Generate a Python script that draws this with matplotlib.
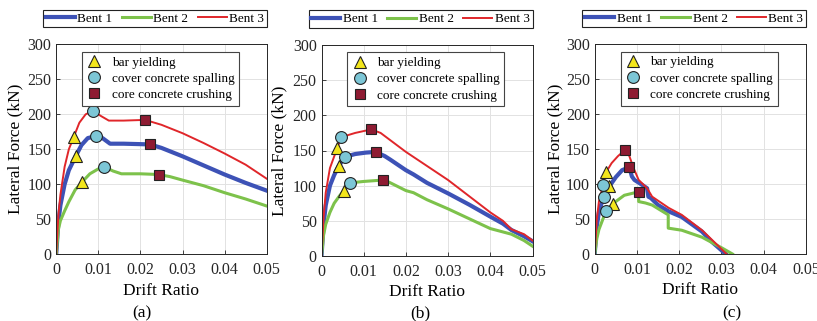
import numpy as np
import matplotlib
matplotlib.use("Agg")
import matplotlib.pyplot as plt
from matplotlib.lines import Line2D
from matplotlib.patches import Rectangle

plt.rcParams['font.family'] = 'Liberation Serif'

# ---- panel (a) ----
a_b1_x = [0, 0.0005, 0.001, 0.002, 0.003, 0.0047, 0.006, 0.0075, 0.0095, 0.011, 0.0128, 0.016, 0.0223,
          0.025, 0.03, 0.035, 0.04, 0.045, 0.05]
a_b1_y = [0, 45, 70, 100, 120, 141, 156, 166, 169, 166, 158, 158, 157, 152, 140, 127, 114, 102, 91]
a_b2_x = [0, 0.0005, 0.001, 0.002, 0.003, 0.0045, 0.0061, 0.008, 0.010, 0.0114, 0.0135, 0.0155, 0.02,
          0.0243, 0.027, 0.03, 0.035, 0.04, 0.045, 0.05]
a_b2_y = [0, 35, 48, 62, 75, 92, 103, 115, 122, 125, 119, 115, 115, 114, 111, 106, 98, 88, 79, 69]
a_b3_x = [0, 0.0005, 0.001, 0.002, 0.003, 0.0042, 0.0055, 0.007, 0.0088, 0.0105, 0.0125, 0.016, 0.0211,
          0.025, 0.03, 0.035, 0.04, 0.045, 0.05]
a_b3_y = [0, 55, 85, 125, 150, 168, 188, 200, 205, 198, 191, 191, 192, 185, 173, 159, 144, 128, 108]
# events: [bent1, bent2, bent3] as (drift, force)
a_yield = [(0.0047, 141), (0.0061, 103), (0.0042, 168)]
a_spall = [(0.0095, 169), (0.0114, 125), (0.0088, 205)]
a_crush = [(0.0223, 157), (0.0243, 114), (0.0211, 192)]

# ---- panel (b) ----
b_b1_x = [0, 0.0005, 0.001, 0.002, 0.003, 0.0041, 0.0055, 0.008, 0.0105, 0.0128, 0.015, 0.0163, 0.02,
          0.0218, 0.025, 0.03, 0.035, 0.04, 0.043, 0.045, 0.048, 0.05]
b_b1_y = [0, 45, 72, 100, 115, 128, 141, 145, 147, 148, 142, 137, 122, 116, 104, 89, 73, 56, 46, 37, 28, 21]
b_b2_x = [0, 0.0005, 0.001, 0.002, 0.003, 0.0042, 0.0053, 0.0068, 0.01, 0.0146, 0.016, 0.02, 0.0218,
          0.025, 0.03, 0.035, 0.04, 0.045, 0.048, 0.05]
b_b2_y = [0, 30, 45, 62, 75, 85, 93, 104, 106, 108, 105, 93, 90, 80, 67, 53, 39, 31, 22, 14]
b_b3_x = [0, 0.0005, 0.001, 0.002, 0.0037, 0.0047, 0.008, 0.0118, 0.014, 0.02, 0.025, 0.03, 0.035,
          0.04, 0.043, 0.045, 0.048, 0.05]
b_b3_y = [0, 55, 90, 125, 153, 169, 175, 180, 175, 148, 128, 108, 85, 62, 50, 38, 31, 22]
b_yield = [(0.0041, 128), (0.0053, 93), (0.0037, 153)]
b_spall = [(0.0055, 141), (0.0068, 104), (0.0047, 169)]
b_crush = [(0.0128, 148), (0.0146, 108), (0.0118, 180)]

# ---- panel (c) ----
c_b1_x = [0, 0.0005, 0.001, 0.0021, 0.0035, 0.005, 0.0065, 0.0082, 0.0088, 0.0094, 0.0112, 0.0124,
          0.0127, 0.0133, 0.015, 0.0175, 0.0206, 0.0254, 0.0278, 0.031]
c_b1_y = [0, 40, 60, 82, 97, 110, 120, 124, 111, 106, 99, 94, 82, 80, 70, 61, 53, 32, 17, 0]
c_b2_x = [0, 0.0005, 0.001, 0.0027, 0.0043, 0.007, 0.0104, 0.0104, 0.012, 0.0136, 0.0174, 0.0174,
          0.0206, 0.0254, 0.03, 0.0326]
c_b2_y = [0, 22, 35, 62, 72, 84, 89, 75, 73, 70, 56, 37, 34, 24, 9, 0]
c_b3_x = [0, 0.0005, 0.001, 0.002, 0.0027, 0.004, 0.0055, 0.0072, 0.0082, 0.0092, 0.0104, 0.0124,
          0.0136, 0.0175, 0.0206, 0.0254, 0.0278, 0.0312]
c_b3_y = [0, 50, 75, 99, 117, 130, 140, 149, 140, 123, 106, 94, 82, 66, 56, 34, 20, 0]
c_yield = [(0.0035, 97), (0.0043, 72), (0.0027, 117)]
c_spall = [(0.0021, 82), (0.0027, 62), (0.002, 99)]
c_crush = [(0.0082, 124), (0.0104, 89), (0.0072, 149)]

bent_names = ["Bent 1", "Bent 2", "Bent 3"]
event_names = ["bar yielding", "cover concrete spalling", "core concrete crushing"]
x_ticks = [0, 0.01, 0.02, 0.03, 0.04, 0.05]
x_ticklabels = ["0", "0.01", "0.02", "0.03", "0.04", "0.05"]
y_ticks = [0, 50, 100, 150, 200, 250, 300]
captions = ["(a)", "(b)", "(c)"]

line_col = ["#3d52b6", "#7dc24b", "#e0262a"]
line_w = [3.0, 2.2, 1.4]
ev_style = [("^", "#f3e61c", 9), ("o", "#7cc6d6", 8.5), ("s", "#8e1b32", 7)]

W, H = 817, 321
fig = plt.figure(figsize=(W / 100, H / 100), dpi=100)

panels = [
    ([(a_b1_x, a_b1_y), (a_b2_x, a_b2_y), (a_b3_x, a_b3_y)], [a_yield, a_spall, a_crush]),
    ([(b_b1_x, b_b1_y), (b_b2_x, b_b2_y), (b_b3_x, b_b3_y)], [b_yield, b_spall, b_crush]),
    ([(c_b1_x, c_b1_y), (c_b2_x, c_b2_y), (c_b3_x, c_b3_y)], [c_yield, c_spall, c_crush]),
]
# axes boxes in pixels: left, right, top, bottom
boxes = [(56.2, 266.7, 44.3, 254.3), (321.5, 532.5, 45.0, 256.0), (594.7, 806.0, 44.3, 254.0)]
ylab_x = [-0.158, -0.163, -0.15]
cap_pos = [(142, 313), (420, 313), (732, 313)]

for i, (curves, events) in enumerate(panels):
    l, r, t, b = boxes[i]
    ax = fig.add_axes([l / W, 1 - b / H, (r - l) / W, (b - t) / H], zorder=2 if i > 0 else 0)
    for j, (x, y) in enumerate(curves):
        ax.plot(x, y, color=line_col[j], lw=line_w[j], label=bent_names[j], solid_joinstyle='round')
    for k, pts in enumerate(events):
        m, fc, ms = ev_style[k]
        px = [p[0] for p in pts]
        py = [p[1] for p in pts]
        ax.plot(px, py, ls='none', marker=m, mfc=fc, mec='#222222', mew=0.8, ms=ms, zorder=5)

    ax.set_xlim(0, 0.05)
    ax.set_ylim(0, 300)
    ax.set_xticks(x_ticks)
    ax.set_xticklabels(x_ticklabels)
    ax.set_yticks(y_ticks)
    ax.grid(True, color='#e2e2e2', lw=0.7)
    ax.set_axisbelow(True)
    ax.tick_params(direction='in', length=3, width=0.6, labelsize=11.5, colors='#262626', pad=3.5)
    ax.tick_params(axis='x', pad=5.5)
    for s in ax.spines.values():
        s.set_color('#262626')
        s.set_linewidth(0.7)
    ax.set_xlabel("Drift Ratio", fontsize=12.5, labelpad=3.5)
    ax.set_ylabel("Lateral Force (kN)", fontsize=12.5)
    ax.yaxis.set_label_coords(ylab_x[i], 0.5)

    # top legend for the bents
    leg1 = ax.legend(loc='lower right', bbox_to_anchor=(1.0, 1 + 17 / 210), ncol=3, fontsize=9.5,
                     frameon=True, fancybox=False, edgecolor='#222222', framealpha=1,
                     handlelength=2.2, handletextpad=0.2, columnspacing=0.7,
                     borderpad=0.2, borderaxespad=0)
    leg1.get_frame().set_linewidth(0.8)
    ax.add_artist(leg1)

    # inner legend for damage states
    handles = [Line2D([], [], ls='none', marker=m, mfc=fc, mec='#222222', mew=0.8, ms=ms)
               for (m, fc, ms) in ev_style]
    leg2 = ax.legend(handles, event_names, loc='upper center', bbox_to_anchor=(0.495, 0.965),
                     fontsize=9.5, frameon=True, fancybox=False, edgecolor='#444444',
                     framealpha=1, handlelength=1.2, handletextpad=0.7, labelspacing=0.3,
                     borderpad=0.35, borderaxespad=0)
    leg2.get_frame().set_linewidth(0.8)

    fig.text(cap_pos[i][0] / W, 1 - cap_pos[i][1] / H, captions[i], fontsize=12.5,
             ha='center', va='center')

# the panels were cropped side by side, hiding the end of the last tick label in (a)
cover = Rectangle((280 / W, 1 - 282 / H), 25 / W, 24 / H, transform=fig.transFigure,
                  facecolor='white', edgecolor='none', zorder=1)
fig.add_artist(cover)

fig.savefig("out.png", dpi=100)
